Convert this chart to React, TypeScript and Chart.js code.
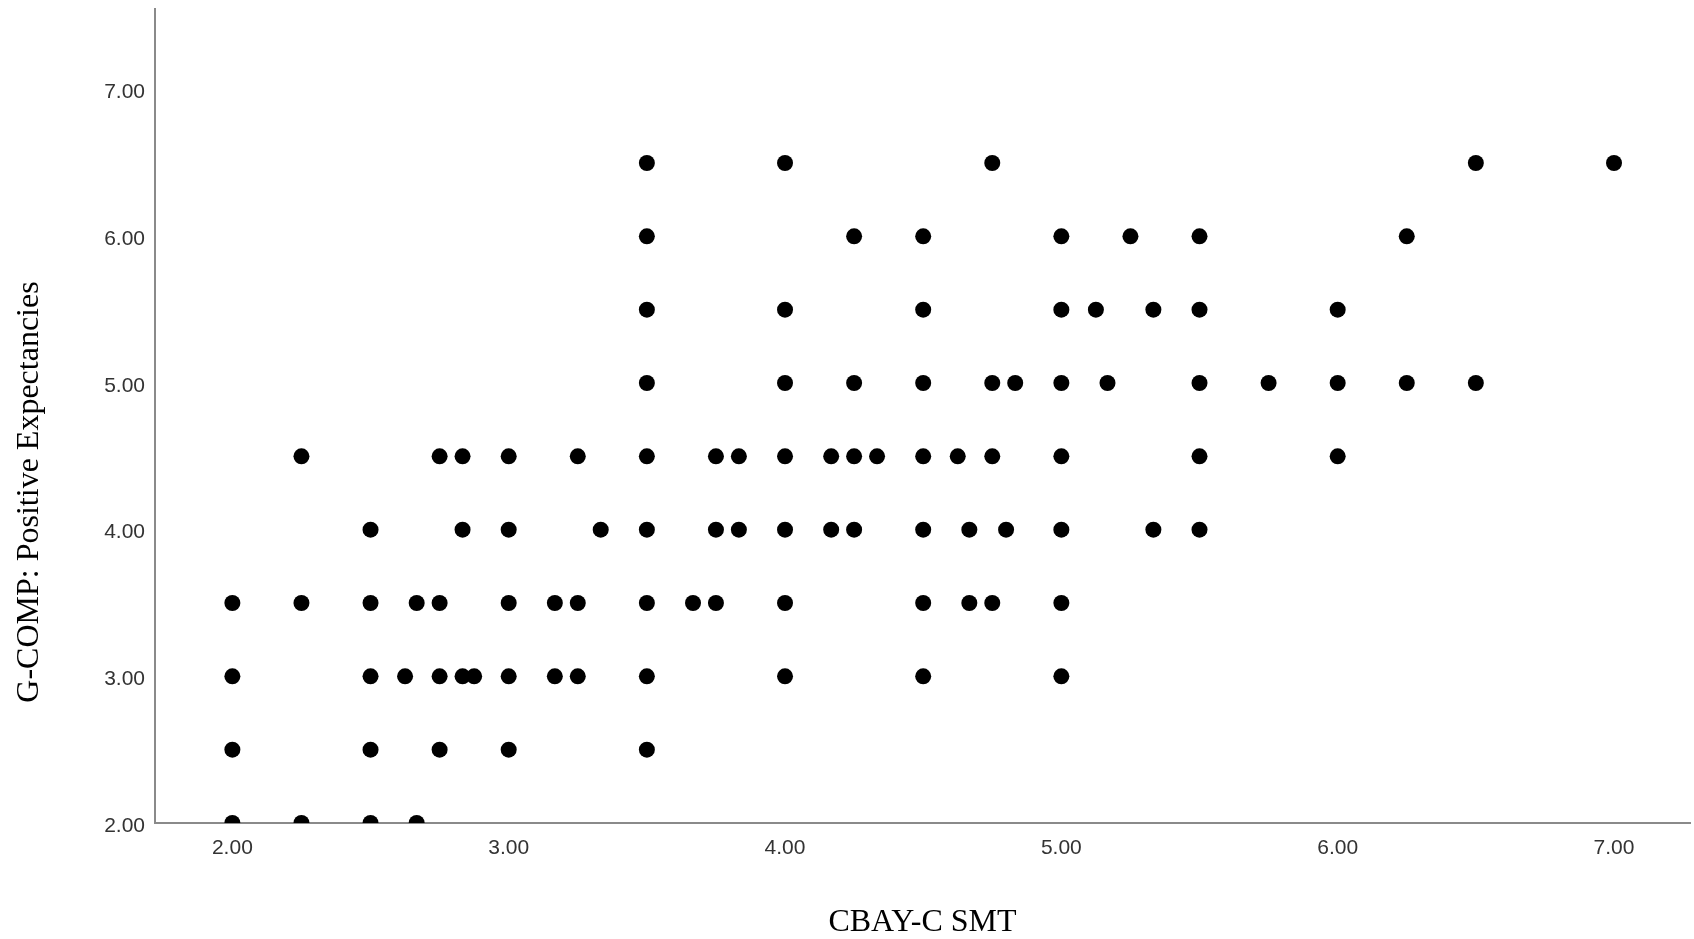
import React, { useEffect, useRef } from 'react';
import { Chart, registerables } from 'chart.js';

Chart.register(...registerables);

// ---- Data: CBAY-C SMT (x) values observed at each G-COMP level (y) ----
const gcompLevels = [6.5, 6.0, 5.5, 5.0, 4.5, 4.0, 3.5, 3.0, 2.5, 2.0];

const smtAt65 = [3.5, 4.0, 4.75, 6.5, 7.0];
const smtAt60 = [3.5, 4.25, 4.5, 5.0, 5.25, 5.5, 6.25];
const smtAt55 = [3.5, 4.0, 4.5, 5.0, 5.125, 5.333, 5.5, 6.0];
const smtAt50 = [3.5, 4.0, 4.25, 4.5, 4.75, 4.833, 5.0, 5.167, 5.5, 5.75, 6.0, 6.25, 6.5];
const smtAt45 = [2.25, 2.75, 2.833, 3.0, 3.25, 3.5, 3.75, 3.833, 4.0, 4.167, 4.25, 4.333, 4.5, 4.625, 4.75, 5.0, 5.5, 6.0];
const smtAt40 = [2.5, 2.833, 3.0, 3.333, 3.5, 3.75, 3.833, 4.0, 4.167, 4.25, 4.5, 4.667, 4.8, 5.0, 5.333, 5.5];
const smtAt35 = [2.0, 2.25, 2.5, 2.667, 2.75, 3.0, 3.167, 3.25, 3.5, 3.667, 3.75, 4.0, 4.5, 4.667, 4.75, 5.0];
const smtAt30 = [2.0, 2.5, 2.625, 2.75, 2.833, 2.875, 3.0, 3.167, 3.25, 3.5, 4.0, 4.5, 5.0];
const smtAt25 = [2.0, 2.5, 2.75, 3.0, 3.5];
const smtAt20 = [2.0, 2.25, 2.5, 2.667];

const smtByLevel = [smtAt65, smtAt60, smtAt55, smtAt50, smtAt45, smtAt40, smtAt35, smtAt30, smtAt25, smtAt20];

const xTickValues = [2, 3, 4, 5, 6, 7];
const yTickValues = [2, 3, 4, 5, 6, 7];

const xTitle = 'CBAY-C SMT';
const yTitle = 'G-COMP: Positive Expectancies';

const points = gcompLevels.flatMap((y, i) => smtByLevel[i].map((x) => ({ x, y })));

const yTitlePlugin = {
  id: 'yTitleSpss',
  afterDraw(chart: any) {
    const { ctx, chartArea } = chart;
    ctx.save();
    ctx.translate(30, (chartArea.top + chartArea.bottom) / 2 + 76);
    ctx.rotate(-Math.PI / 2);
    ctx.font = '32px "Liberation Serif", "Times New Roman", serif';
    ctx.fillStyle = '#000000';
    ctx.textAlign = 'center';
    ctx.textBaseline = 'middle';
    ctx.fillText(yTitle, 0, 0);
    ctx.restore();
  },
};

export default function App() {
  const canvasRef = useRef<HTMLCanvasElement | null>(null);

  useEffect(() => {
    if (!canvasRef.current) return;
    const tickFont = { family: '"Liberation Sans", Arial, sans-serif', size: 21 };
    const chart = new Chart(canvasRef.current, {
      type: 'scatter',
      data: {
        datasets: [
          {
            data: points,
            backgroundColor: '#000000',
            borderWidth: 0,
            pointRadius: 8,
            pointHoverRadius: 8,
            clip: 0,
          },
        ],
      },
      options: {
        responsive: false,
        animation: false,
        layout: { autoPadding: false, padding: { top: 9, right: 4, left: 0, bottom: 0 } },
        plugins: { legend: { display: false }, tooltip: { enabled: false } },
        scales: {
          x: {
            type: 'linear',
            min: 1.72,
            max: 7.275,
            grid: { display: false, drawTicks: false },
            border: { display: true, color: '#8a8a8a', width: 2 },
            afterBuildTicks: (scale: any) => {
              scale.ticks = xTickValues.map((v) => ({ value: v }));
            },
            afterFit: (scale: any) => {
              scale.height = 116;
              scale.paddingLeft = 0;
              scale.paddingRight = 0;
            },
            ticks: {
              color: '#333333',
              font: tickFont,
              padding: 13,
              maxRotation: 0,
              autoSkip: false,
              callback: (v: any) => Number(v).toFixed(2),
            },
            title: {
              display: true,
              text: xTitle,
              color: '#000000',
              font: { family: '"Liberation Serif", "Times New Roman", serif', size: 32, lineHeight: 1.05 },
              padding: { top: 0, bottom: 0 },
            },
          },
          y: {
            type: 'linear',
            min: 2,
            max: 7.55,
            grid: { display: false, drawTicks: false },
            border: { display: true, color: '#8a8a8a', width: 2 },
            afterBuildTicks: (scale: any) => {
              scale.ticks = yTickValues.map((v) => ({ value: v }));
            },
            afterFit: (scale: any) => {
              scale.width = 155;
              scale.paddingTop = 0;
              scale.paddingBottom = 0;
            },
            ticks: {
              color: '#333333',
              font: tickFont,
              padding: 10,
              labelOffset: 3,
              autoSkip: false,
              callback: (v: any) => Number(v).toFixed(2),
            },
          },
        },
      },
      plugins: [yTitlePlugin],
    });
    return () => chart.destroy();
  }, []);

  return (
    <div style={{ position: 'absolute', left: 0, top: 0, width: 1694, height: 939, background: '#ffffff' }}>
      <canvas ref={canvasRef} width={1694} height={939} style={{ display: 'block' }} />
    </div>
  );
}
